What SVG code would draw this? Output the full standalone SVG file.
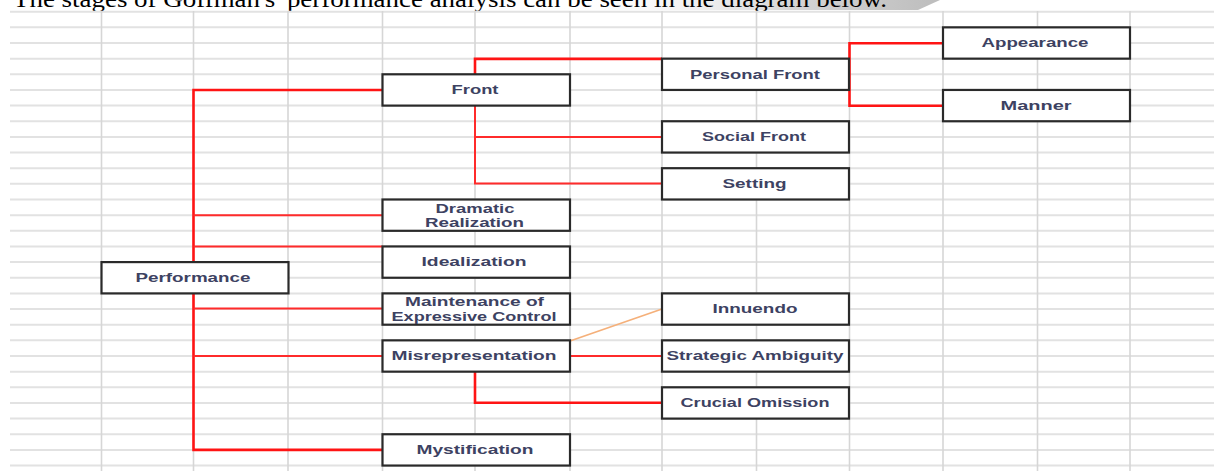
<svg xmlns="http://www.w3.org/2000/svg" width="1214" height="471" viewBox="0 0 1214 471">
<defs>
<linearGradient id="swoosh" x1="0" y1="0" x2="1" y2="0">
<stop offset="0" stop-color="#ffffff" stop-opacity="0"/>
<stop offset="0.6" stop-color="#d6d6d6"/>
<stop offset="1" stop-color="#bdbdbd"/>
</linearGradient>
</defs>
<style>
.grid-h{stroke:#e2e2e2;stroke-width:2;fill:none}
.grid-v{stroke:#d6d6d6;stroke-width:1.6;fill:none}
.box{fill:#ffffff;stroke:#2a2a2a;stroke-width:2.2}
.lbl{font-family:"Liberation Sans",Arial,sans-serif;font-weight:bold;font-size:12.5px;fill:#3d4262;text-anchor:middle}
.red{stroke:#ff2b2b;stroke-width:2;fill:none}
.trunk{stroke:#ff1414;stroke-width:2.6;fill:none}
.orange{stroke:#f5b07a;stroke-width:1.6;fill:none}
.title{font-family:"Liberation Serif","Times New Roman",serif;font-size:24px;fill:#000}
</style>
<rect x="0" y="0" width="1214" height="471" fill="#ffffff"/>
<path d="M560 0 L940 0 L918 10 L560 10 Z" fill="url(#swoosh)"/>
<text class="title" x="13" y="6.5" textLength="874" lengthAdjust="spacingAndGlyphs">The stages of Goffman's 'performance analysis can be seen in the diagram below.</text>
<g id="grid">
<path class="grid-h" d="M10 11.7H1214M10 27.35H1214M10 43H1214M10 58.65H1214M10 74.3H1214M10 89.95H1214M10 105.6H1214M10 121.25H1214M10 136.9H1214M10 152.55H1214M10 168.2H1214M10 183.85H1214M10 199.5H1214M10 215.15H1214M10 230.8H1214M10 246.45H1214M10 262.1H1214M10 277.75H1214M10 293.4H1214M10 309.05H1214M10 324.7H1214M10 340.35H1214M10 356H1214M10 371.65H1214M10 387.3H1214M10 402.95H1214M10 418.6H1214M10 434.25H1214M10 449.9H1214M10 465.55H1214"/>
<path class="grid-v" d="M101.5 11V471M193.5 11V471M288 11V471M382.5 11V471M475 11V471M570 11V471M662 11V471M756.5 11V471M849.5 11V471M943 11V471M1037.5 11V471M1130 11V471"/>
</g>
<g id="connectors">
<path class="trunk" d="M382.5 90H193.5V449.9H382.5"/>
<path class="red" d="M193.5 215.15H382.5M193.5 246.45H382.5M193.5 308.5H382.5M193.5 356H382.5"/>
<path class="trunk" d="M475 74.3V58.9H662"/>
<path class="red" d="M475 105.6V183.6H662M475 136.9H662"/>
<path class="trunk" d="M943 43.2H849.5V105.8H943"/>
<path class="red" d="M570 356H662"/>
<path class="trunk" d="M475 371.65V402.7H662"/>
<path class="orange" d="M570 341L662 309"/>
</g>
<g id="performance"><rect class="box" x="101.5" y="262.1" width="187" height="31.3"/><text class="lbl" x="193" y="281.8" textLength="115" lengthAdjust="spacingAndGlyphs">Performance</text></g>
<g id="front"><rect class="box" x="382.5" y="74.3" width="187.5" height="31.3"/><text class="lbl" x="475" y="94.3" textLength="47" lengthAdjust="spacingAndGlyphs">Front</text></g>
<g id="dramatic-realization"><rect class="box" x="382.5" y="199.5" width="187.5" height="31.3"/><text class="lbl" x="475" y="212.8" textLength="79" lengthAdjust="spacingAndGlyphs">Dramatic</text><text class="lbl" x="474.5" y="227.3" textLength="99" lengthAdjust="spacingAndGlyphs">Realization</text></g>
<g id="idealization"><rect class="box" x="382.5" y="246.45" width="187.5" height="31.3"/><text class="lbl" x="474" y="266.3" textLength="105" lengthAdjust="spacingAndGlyphs">Idealization</text></g>
<g id="maintenance"><rect class="box" x="382.5" y="293.4" width="187.5" height="31.3"/><text class="lbl" x="474.5" y="305.8" textLength="139" lengthAdjust="spacingAndGlyphs">Maintenance of</text><text class="lbl" x="474" y="321.3" textLength="165" lengthAdjust="spacingAndGlyphs">Expressive Control</text></g>
<g id="misrepresentation"><rect class="box" x="382.5" y="340.35" width="187.5" height="31.3"/><text class="lbl" x="474" y="360.3" textLength="165" lengthAdjust="spacingAndGlyphs">Misrepresentation</text></g>
<g id="mystification"><rect class="box" x="382.5" y="434.25" width="187.5" height="31.3"/><text class="lbl" x="475" y="454.3" textLength="117" lengthAdjust="spacingAndGlyphs">Mystification</text></g>
<g id="personal-front"><rect class="box" x="662" y="58.65" width="187" height="31.3"/><text class="lbl" x="755" y="78.5" textLength="130" lengthAdjust="spacingAndGlyphs">Personal Front</text></g>
<g id="social-front"><rect class="box" x="662" y="121.25" width="187" height="31.3"/><text class="lbl" x="754" y="141.2" textLength="104" lengthAdjust="spacingAndGlyphs">Social Front</text></g>
<g id="setting"><rect class="box" x="662" y="168.2" width="187" height="31.3"/><text class="lbl" x="754.5" y="187.9" textLength="64" lengthAdjust="spacingAndGlyphs">Setting</text></g>
<g id="innuendo"><rect class="box" x="662" y="293.4" width="187" height="31.3"/><text class="lbl" x="755" y="313.3" textLength="85" lengthAdjust="spacingAndGlyphs">Innuendo</text></g>
<g id="strategic-ambiguity"><rect class="box" x="662" y="340.35" width="187" height="31.3"/><text class="lbl" x="755" y="360.3" textLength="177" lengthAdjust="spacingAndGlyphs">Strategic Ambiguity</text></g>
<g id="crucial-omission"><rect class="box" x="662" y="387.3" width="187" height="31.3"/><text class="lbl" x="755" y="407.3" textLength="149" lengthAdjust="spacingAndGlyphs">Crucial Omission</text></g>
<g id="appearance"><rect class="box" x="943" y="27.35" width="187" height="31.3"/><text class="lbl" x="1035" y="47.3" textLength="107" lengthAdjust="spacingAndGlyphs">Appearance</text></g>
<g id="manner"><rect class="box" x="943" y="89.95" width="187" height="31.3"/><text class="lbl" x="1036" y="110" textLength="71" lengthAdjust="spacingAndGlyphs">Manner</text></g>
</svg>
